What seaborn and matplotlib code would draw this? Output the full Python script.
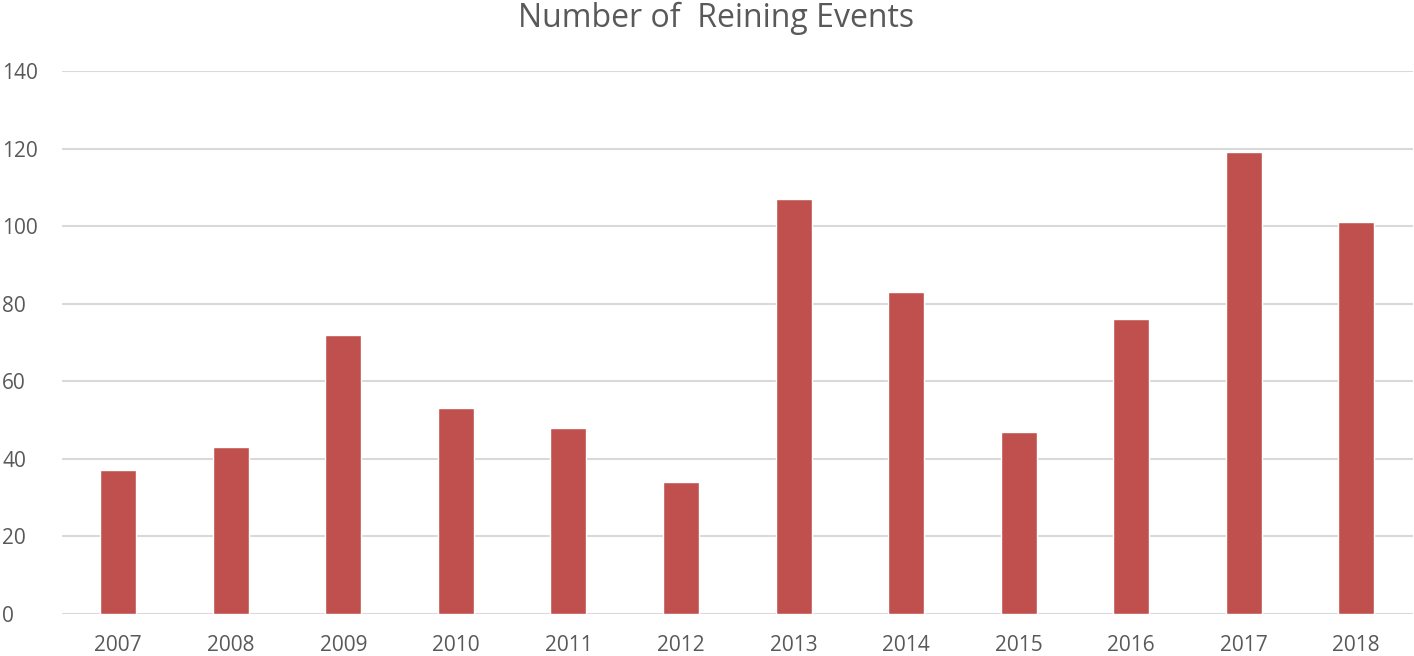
import matplotlib
matplotlib.use("Agg")
import matplotlib.pyplot as plt
import seaborn as sns
import pandas as pd

years = ["2007", "2008", "2009", "2010", "2011", "2012", "2013", "2014", "2015", "2016", "2017", "2018"]
events = [37, 43, 72, 53, 48, 34, 107, 83, 47, 76, 119, 101]
y_ticks = [0, 20, 40, 60, 80, 100, 120, 140]
title = "Number of  Reining Events"

sns.set_theme(style="white")
plt.rcParams["font.family"] = ["Open Sans", "DejaVu Sans"]

df = pd.DataFrame({"year": years, "events": events})

fig = plt.figure(figsize=(14.14, 6.56), dpi=100)
ax = fig.add_axes([62 / 1414, 1 - 614 / 656, 1 - 62 / 1414 - 0.001, (614 - 71) / 656])

sns.barplot(data=df, x="year", y="events", color="#C0504D", saturation=1, width=0.32, ax=ax, zorder=3)

ax.set_ylim(0, 140)
ax.set_xlim(-0.5, len(years) - 0.5)
ax.set_yticks(y_ticks)
ax.yaxis.grid(True, color="#D9D9D9", linewidth=1.5, zorder=0)
ax.set_axisbelow(True)
for s in ax.spines.values():
    s.set_visible(False)
ax.set_xlabel("")
ax.set_ylabel("")
ax.tick_params(axis="both", length=0, labelsize=15, colors="#595959")
ax.tick_params(axis="x", pad=15)
ax.yaxis.set_tick_params(pad=0)
for lbl in ax.get_yticklabels():
    lbl.set_horizontalalignment("left")
    lbl.set_transform(ax.get_yaxis_transform())
    lbl.set_position((-0.0443, 0))

fig.text(0.5067, 1 - 18 / 656, title, ha="center", va="center", fontsize=23, color="#595959")

fig.savefig("out.png", dpi=100)
